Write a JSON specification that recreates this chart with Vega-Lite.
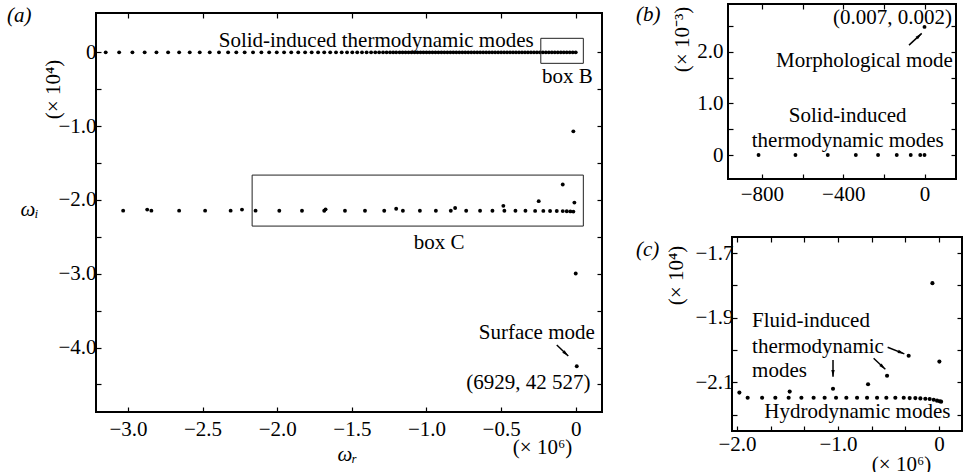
{
  "$schema": "https://vega.github.io/schema/vega-lite/v6.json",
  "autosize": {"type": "none"},
  "padding": {"left": 96, "top": 4, "right": 867, "bottom": 468},
  "background": "white",
  "config": {
    "font": "Liberation Serif",
    "view": {"stroke": "black", "strokeWidth": 2},
    "axis": {"labelFont": "Liberation Serif", "labelFontSize": 21, "labelColor": "black", "titleFont": "Liberation Serif", "titleFontSize": 21, "titleColor": "black", "titleFontWeight": "normal", "grid": false, "domain": false, "tickColor": "black", "tickWidth": 1.2, "tickSize": -5, "labelFlush": false, "labelOverlap": false, "labelBound": false},
    "title": {"font": "Liberation Serif", "fontSize": 21, "fontWeight": "normal", "color": "black", "anchor": "start", "frame": "group", "offset": 0, "baseline": "alphabetic"},
    "text": {"font": "Liberation Serif", "fontSize": 21, "color": "black"}
  },
  "datasets": {
    "modes": [
      {"x": -3.149, "y": 0}, {"x": -3.059, "y": 0}, {"x": -2.970, "y": 0}, {"x": -2.888, "y": 0}, {"x": -2.809, "y": 0}, {"x": -2.731, "y": 0}, {"x": -2.657, "y": 0}, {"x": -2.586, "y": 0}, {"x": -2.519, "y": 0}, {"x": -2.452, "y": 0}, {"x": -2.390, "y": 0}, {"x": -2.329, "y": 0}, {"x": -2.274, "y": 0}, {"x": -2.218, "y": 0}, {"x": -2.162, "y": 0}, {"x": -2.106, "y": 0}, {"x": -2.054, "y": 0}, {"x": -2.003, "y": 0}, {"x": -1.954, "y": 0}, {"x": -1.906, "y": 0}, {"x": -1.859, "y": 0}, {"x": -1.813, "y": 0}, {"x": -1.769, "y": 0}, {"x": -1.726, "y": 0}, {"x": -1.685, "y": 0}, {"x": -1.645, "y": 0}, {"x": -1.606, "y": 0}, {"x": -1.568, "y": 0}, {"x": -1.532, "y": 0}, {"x": -1.497, "y": 0}, {"x": -1.464, "y": 0}, {"x": -1.432, "y": 0}, {"x": -1.401, "y": 0}, {"x": -1.371, "y": 0}, {"x": -1.343, "y": 0}, {"x": -1.317, "y": 0}, {"x": -1.291, "y": 0}, {"x": -1.267, "y": 0}, {"x": -1.244, "y": 0}, {"x": -1.223, "y": 0}, {"x": -1.203, "y": 0},
      {"x": -1.18, "y": 0}, {"x": -1.16, "y": 0}, {"x": -1.14, "y": 0}, {"x": -1.12, "y": 0}, {"x": -1.10, "y": 0}, {"x": -1.08, "y": 0}, {"x": -1.06, "y": 0}, {"x": -1.04, "y": 0}, {"x": -1.02, "y": 0}, {"x": -1.00, "y": 0}, {"x": -0.98, "y": 0}, {"x": -0.96, "y": 0}, {"x": -0.94, "y": 0}, {"x": -0.92, "y": 0}, {"x": -0.90, "y": 0}, {"x": -0.88, "y": 0}, {"x": -0.86, "y": 0}, {"x": -0.84, "y": 0}, {"x": -0.82, "y": 0}, {"x": -0.80, "y": 0}, {"x": -0.78, "y": 0}, {"x": -0.76, "y": 0}, {"x": -0.74, "y": 0}, {"x": -0.72, "y": 0}, {"x": -0.70, "y": 0}, {"x": -0.68, "y": 0}, {"x": -0.66, "y": 0}, {"x": -0.64, "y": 0}, {"x": -0.62, "y": 0}, {"x": -0.60, "y": 0}, {"x": -0.58, "y": 0}, {"x": -0.56, "y": 0}, {"x": -0.54, "y": 0}, {"x": -0.52, "y": 0}, {"x": -0.50, "y": 0}, {"x": -0.48, "y": 0}, {"x": -0.46, "y": 0}, {"x": -0.44, "y": 0}, {"x": -0.42, "y": 0}, {"x": -0.40, "y": 0}, {"x": -0.38, "y": 0}, {"x": -0.36, "y": 0}, {"x": -0.34, "y": 0}, {"x": -0.32, "y": 0}, {"x": -0.30, "y": 0}, {"x": -0.28, "y": 0}, {"x": -0.26, "y": 0}, {"x": -0.24, "y": 0}, {"x": -0.22, "y": 0}, {"x": -0.20, "y": 0}, {"x": -0.18, "y": 0}, {"x": -0.16, "y": 0}, {"x": -0.14, "y": 0}, {"x": -0.12, "y": 0}, {"x": -0.10, "y": 0}, {"x": -0.08, "y": 0}, {"x": -0.06, "y": 0}, {"x": -0.04, "y": 0}, {"x": -0.02, "y": 0}, {"x": 0.0, "y": 0},
      {"x": -3.032, "y": -2.145}, {"x": -2.871, "y": -2.131}, {"x": -2.843, "y": -2.145}, {"x": -2.657, "y": -2.145}, {"x": -2.483, "y": -2.145}, {"x": -2.312, "y": -2.145}, {"x": -2.236, "y": -2.131}, {"x": -2.145, "y": -2.145}, {"x": -1.986, "y": -2.147}, {"x": -1.834, "y": -2.147}, {"x": -1.685, "y": -2.146}, {"x": -1.676, "y": -2.127}, {"x": -1.546, "y": -2.147}, {"x": -1.412, "y": -2.147}, {"x": -1.283, "y": -2.147}, {"x": -1.203, "y": -2.119}, {"x": -1.158, "y": -2.147}, {"x": -1.044, "y": -2.147}, {"x": -0.937, "y": -2.147}, {"x": -0.837, "y": -2.147}, {"x": -0.808, "y": -2.109}, {"x": -0.734, "y": -2.147}, {"x": -0.641, "y": -2.147}, {"x": -0.558, "y": -2.147}, {"x": -0.485, "y": -2.080}, {"x": -0.478, "y": -2.147}, {"x": -0.404, "y": -2.147}, {"x": -0.337, "y": -2.147}, {"x": -0.272, "y": -2.148}, {"x": -0.248, "y": -2.016}, {"x": -0.217, "y": -2.148}, {"x": -0.172, "y": -2.149}, {"x": -0.127, "y": -2.150}, {"x": -0.087, "y": -1.790}, {"x": -0.087, "y": -2.151}, {"x": -0.060, "y": -2.153}, {"x": -0.036, "y": -2.155}, {"x": -0.016, "y": -2.158}, {"x": -0.009, "y": -2.036}, {"x": -0.016, "y": -1.070}, {"x": 0.0, "y": -2.997}, {"x": 0.0069, "y": -4.2527}
    ],
    "modesC": [
      {"x": -1.977, "y": -2.132}, {"x": -1.479, "y": -2.129}, {"x": -1.050, "y": -2.120}, {"x": -0.703, "y": -2.106}, {"x": -0.515, "y": -2.080}, {"x": -0.301, "y": -2.018}, {"x": -0.066, "y": -1.793}, {"x": 0.003, "y": -2.036},
      {"x": -1.895, "y": -2.148}, {"x": -1.752, "y": -2.148}, {"x": -1.621, "y": -2.148}, {"x": -1.489, "y": -2.148}, {"x": -1.363, "y": -2.148}, {"x": -1.242, "y": -2.148}, {"x": -1.133, "y": -2.148}, {"x": -1.020, "y": -2.148}, {"x": -0.918, "y": -2.148}, {"x": -0.812, "y": -2.148}, {"x": -0.713, "y": -2.148}, {"x": -0.614, "y": -2.148}, {"x": -0.522, "y": -2.148}, {"x": -0.433, "y": -2.148}, {"x": -0.350, "y": -2.148}, {"x": -0.291, "y": -2.149}, {"x": -0.235, "y": -2.149}, {"x": -0.185, "y": -2.150}, {"x": -0.136, "y": -2.151}, {"x": -0.093, "y": -2.152}, {"x": -0.053, "y": -2.154}, {"x": -0.020, "y": -2.157}, {"x": 0.006, "y": -2.159}, {"x": 0.020, "y": -2.160}
    ],
    "boxesA": [
      {"x": -0.234, "x2": 0.051, "y": 0.19, "y2": -0.149},
      {"x": -2.168, "x2": 0.051, "y": -1.663, "y2": -2.354}
    ],
    "notesA": [
      {"x": -1.337, "y": 0.079, "label": "Solid-induced thermodynamic modes"},
      {"x": -0.056, "y": -0.412, "label": "box B"},
      {"x": -0.916, "y": -2.669, "label": "box C"},
      {"x": -0.261, "y": -3.889, "label": "Surface mode"},
      {"x": -0.317, "y": -4.566, "label": "(6929, 42 527)"}
    ],
    "arrowA": [{"x": -0.127, "y": -3.966, "x2": -0.05, "y2": -4.115}],
    "ptsB": [
      {"x": -816.7, "y": 0}, {"x": -635, "y": 0}, {"x": -476, "y": 0}, {"x": -338, "y": 0}, {"x": -228.5, "y": 0}, {"x": -136.6, "y": 0}, {"x": -67.8, "y": 0}, {"x": -21, "y": 0}, {"x": 0, "y": 0}, {"x": 0.007, "y": 2.48}
    ],
    "notesB": [
      {"x": -158, "y": 2.53, "label": "(0.007, 0.002)"},
      {"x": -296, "y": 1.708, "label": "Morphological mode"},
      {"x": -378, "y": 0.644, "label": "Solid-induced"},
      {"x": -378, "y": 0.161, "label": "thermodynamic modes"}
    ],
    "arrowB": [{"x": -76.2, "y": 2.128, "x2": -13.8, "y2": 2.354}],
    "notesC": [
      {"x": -1.851, "y": -1.928, "label": "Fluid-induced"},
      {"x": -1.851, "y": -2.010, "label": "thermodynamic"},
      {"x": -1.851, "y": -2.083, "label": "modes"},
      {"x": -1.730, "y": -2.212, "label": "Hydrodynamic modes"}
    ],
    "arrowC": [
      {"id": 1, "x": -0.509, "y": -1.9915, "x2": -0.344, "y2": -2.012},
      {"id": 2, "x": -0.648, "y": -2.0256, "x2": -0.532, "y2": -2.0597},
      {"id": 3, "x": -1.050, "y": -2.0308, "x2": -1.050, "y2": -2.0826}
    ]
  },
  "spacing": 632,
  "bounds": "flush",
  "hconcat": [
    {
      "spacing": 0,
      "bounds": "flush",
      "vconcat": [
        {"width": 506, "height": 9, "data": {"values": [{"a": 0}]}, "mark": {"type": "text", "text": ""}, "view": {"stroke": null}},
        {
          "width": 506,
          "height": 399,
          "title": {"text": "(a)", "dx": -89, "dy": 18, "fontStyle": "italic"},
          "resolve": {"axis": {"x": "independent", "y": "independent"}},
          "layer": [
            {
              "data": {"name": "modes"},
              "mark": {"type": "point", "filled": true, "size": 15, "color": "black", "opacity": 1},
              "encoding": {
                "x": {"field": "x", "type": "quantitative", "scale": {"domain": [-3.214, 0.176], "nice": false, "zero": false},
                  "axis": {"orient": "bottom", "values": [-3, -2.5, -2, -1.5, -1, -0.5, 0], "labelExpr": "datum.value === 0 ? '0' : format(datum.value, '.1f')", "labelPadding": 11, "title": "ωᵣ", "titleX": 251, "titleY": 48, "titleAngle": 0, "titleAlign": "center", "titleBaseline": "alphabetic", "titleFontStyle": "italic"}},
                "y": {"field": "y", "type": "quantitative", "scale": {"domain": [-4.873, 0.533], "nice": false, "zero": false},
                  "axis": {"orient": "left", "values": [-4.5, -4, -3.5, -3, -2.5, -2, -1.5, -1, -0.5, 0], "labelExpr": "datum.value === 0 ? '0' : (datum.value % 1 === 0 ? format(datum.value, '.1f') : '')", "labelPadding": 5, "title": "(× 10⁴)", "titleX": -43, "titleY": 76, "titleAngle": -90, "titleAlign": "center", "titleBaseline": "middle"}}
              }
            },
            {
              "data": {"name": "boxesA"},
              "mark": {"type": "rect", "filled": false, "stroke": "#222222", "strokeWidth": 1},
              "encoding": {
                "x": {"field": "x", "type": "quantitative", "scale": {"domain": [-3.214, 0.176], "nice": false, "zero": false},
                  "axis": {"orient": "top", "values": [-3, -2.5, -2, -1.5, -1, -0.5, 0], "labels": false, "title": "(× 10⁶)", "titleX": 446, "titleY": 440, "titleAngle": 0, "titleAlign": "center", "titleBaseline": "alphabetic"}},
                "x2": {"field": "x2"},
                "y": {"field": "y", "type": "quantitative", "scale": {"domain": [-4.873, 0.533], "nice": false, "zero": false},
                  "axis": {"orient": "right", "values": [-4.5, -4, -3.5, -3, -2.5, -2, -1.5, -1, -0.5, 0], "labels": false, "title": "ωᵢ", "titleX": -573, "titleY": 202, "titleAngle": 0, "titleAlign": "center", "titleBaseline": "alphabetic", "titleFontStyle": "italic"}},
                "y2": {"field": "y2"}
              }
            },
            {
              "data": {"name": "notesA"},
              "mark": {"type": "text", "align": "center", "baseline": "alphabetic"},
              "encoding": {
                "x": {"field": "x", "type": "quantitative", "axis": null, "scale": {"domain": [-3.214, 0.176], "nice": false, "zero": false}},
                "y": {"field": "y", "type": "quantitative", "axis": null, "scale": {"domain": [-4.873, 0.533], "nice": false, "zero": false}},
                "text": {"field": "label"}
              }
            },
            {
              "data": {"name": "arrowA"},
              "mark": {"type": "rule", "color": "black", "strokeWidth": 1.5},
              "encoding": {
                "x": {"field": "x", "type": "quantitative", "axis": null, "scale": {"domain": [-3.214, 0.176], "nice": false, "zero": false}},
                "y": {"field": "y", "type": "quantitative", "axis": null, "scale": {"domain": [-4.873, 0.533], "nice": false, "zero": false}},
                "x2": {"field": "x2"},
                "y2": {"field": "y2"}
              }
            },
            {
              "data": {"name": "arrowA"},
              "mark": {"type": "point", "filled": true, "opacity": 1, "color": "black", "size": 70, "shape": "M0,0 L0.4,1.6 L-0.4,1.6 Z", "angle": 133.5},
              "encoding": {
                "x": {"field": "x2", "type": "quantitative", "axis": null, "scale": {"domain": [-3.214, 0.176], "nice": false, "zero": false}},
                "y": {"field": "y2", "type": "quantitative", "axis": null, "scale": {"domain": [-4.873, 0.533], "nice": false, "zero": false}}
              }
            }
          ]
        }
      ]
    },
    {
      "spacing": 58,
      "bounds": "flush",
      "vconcat": [
        {
          "width": 228,
          "height": 175,
          "title": {"text": "(b)", "dx": -92, "dy": 25.7, "fontStyle": "italic"},
          "resolve": {"axis": {"x": "independent", "y": "independent"}},
          "layer": [
            {
              "data": {"name": "ptsB"},
              "mark": {"type": "point", "filled": true, "size": 15, "color": "black", "opacity": 1},
              "encoding": {
                "x": {"field": "x", "type": "quantitative", "scale": {"domain": [-967, 155], "nice": false, "zero": false},
                  "axis": {"orient": "bottom", "values": [-800, -600, -400, -200, 0], "labelExpr": "datum.value % 400 === 0 ? format(datum.value, 'd') : ''", "labelPadding": 9, "title": null}},
                "y": {"field": "y", "type": "quantitative", "scale": {"domain": [-0.464, 2.923], "nice": false, "zero": false},
                  "axis": {"orient": "left", "values": [0, 0.5, 1, 1.5, 2, 2.5], "labelExpr": "datum.value === 0 ? '0' : (datum.value % 1 === 0 ? format(datum.value, '.1f') : '')", "labelPadding": 10, "title": "(× 10⁻³)", "titleX": -46, "titleY": 35, "titleAngle": -90, "titleAlign": "center", "titleBaseline": "middle"}}
              }
            },
            {
              "data": {"name": "notesB"},
              "mark": {"type": "text", "align": "center", "baseline": "alphabetic"},
              "encoding": {
                "x": {"field": "x", "type": "quantitative", "scale": {"domain": [-967, 155], "nice": false, "zero": false},
                  "axis": {"orient": "top", "values": [-800, -600, -400, -200, 0], "labels": false, "title": null}},
                "y": {"field": "y", "type": "quantitative", "scale": {"domain": [-0.464, 2.923], "nice": false, "zero": false},
                  "axis": {"orient": "right", "values": [0, 0.5, 1, 1.5, 2, 2.5], "labels": false, "title": null}},
                "text": {"field": "label"}
              }
            },
            {
              "data": {"name": "arrowB"},
              "mark": {"type": "rule", "color": "black", "strokeWidth": 1.5},
              "encoding": {
                "x": {"field": "x", "type": "quantitative", "axis": null, "scale": {"domain": [-967, 155], "nice": false, "zero": false}},
                "y": {"field": "y", "type": "quantitative", "axis": null, "scale": {"domain": [-0.464, 2.923], "nice": false, "zero": false}},
                "x2": {"field": "x2"},
                "y2": {"field": "y2"}
              }
            },
            {
              "data": {"name": "arrowB"},
              "mark": {"type": "point", "filled": true, "opacity": 1, "color": "black", "size": 70, "shape": "M0,0 L0.4,1.6 L-0.4,1.6 Z", "angle": 47.3},
              "encoding": {
                "x": {"field": "x2", "type": "quantitative", "axis": null, "scale": {"domain": [-967, 155], "nice": false, "zero": false}},
                "y": {"field": "y2", "type": "quantitative", "axis": null, "scale": {"domain": [-0.464, 2.923], "nice": false, "zero": false}}
              }
            }
          ]
        },
        {
          "spacing": 0,
          "bounds": "flush",
          "hconcat": [
            {"width": 4, "height": 194, "data": {"values": [{"a": 0}]}, "mark": {"type": "text", "text": ""}, "view": {"stroke": null}},
            {
              "width": 230,
              "height": 194,
              "title": {"text": "(c)", "dx": -96, "dy": 27.4, "fontStyle": "italic"},
              "resolve": {"axis": {"x": "independent", "y": "independent"}},
              "layer": [
                {
                  "data": {"name": "modesC"},
                  "mark": {"type": "point", "filled": true, "size": 17, "color": "black", "opacity": 1},
                  "encoding": {
                    "x": {"field": "x", "type": "quantitative", "scale": {"domain": [-2.05, 0.227], "nice": false, "zero": false},
                      "axis": {"orient": "bottom", "values": [-2, -1.6667, -1.3333, -1, -0.6667, -0.3333, 0], "labelExpr": "datum.value === 0 ? '0' : (datum.value % 1 === 0 ? format(datum.value, '.1f') : '')", "labelPadding": 7, "title": null}},
                    "y": {"field": "y", "type": "quantitative", "scale": {"domain": [-2.251, -1.650], "nice": false, "zero": false},
                      "axis": {"orient": "left", "values": [-2.2, -2.1, -2.0, -1.9, -1.8, -1.7], "labelExpr": "abs(round(datum.value * 10)) % 2 === 1 ? format(datum.value, '.1f') : ''", "labelPadding": 4, "title": "(× 10⁴)", "titleX": -56, "titleY": 38, "titleAngle": -90, "titleAlign": "center", "titleBaseline": "middle"}}
                  }
                },
                {
                  "data": {"name": "notesC"},
                  "mark": {"type": "text", "align": "left", "baseline": "alphabetic"},
                  "encoding": {
                    "x": {"field": "x", "type": "quantitative", "scale": {"domain": [-2.05, 0.227], "nice": false, "zero": false},
                      "axis": {"orient": "top", "values": [-2, -1.6667, -1.3333, -1, -0.6667, -0.3333, 0], "labels": false, "title": "(× 10⁶)", "titleX": 169, "titleY": 233, "titleAngle": 0, "titleAlign": "center", "titleBaseline": "alphabetic"}},
                    "y": {"field": "y", "type": "quantitative", "scale": {"domain": [-2.251, -1.650], "nice": false, "zero": false},
                      "axis": {"orient": "right", "values": [-2.2, -2.1, -2.0, -1.9, -1.8, -1.7], "labels": false, "title": null}},
                    "text": {"field": "label"}
                  }
                },
                {
                  "data": {"name": "arrowC"},
                  "mark": {"type": "rule", "color": "black", "strokeWidth": 1.5},
                  "encoding": {
                    "x": {"field": "x", "type": "quantitative", "axis": null, "scale": {"domain": [-2.05, 0.227], "nice": false, "zero": false}},
                    "y": {"field": "y", "type": "quantitative", "axis": null, "scale": {"domain": [-2.251, -1.650], "nice": false, "zero": false}},
                    "x2": {"field": "x2"},
                    "y2": {"field": "y2"}
                  }
                },
                {
                  "data": {"name": "arrowC"},
                  "transform": [{"filter": "datum.id === 1"}],
                  "mark": {"type": "point", "filled": true, "opacity": 1, "color": "black", "size": 70, "shape": "M0,0 L0.4,1.6 L-0.4,1.6 Z", "angle": 111.8},
                  "encoding": {
                    "x": {"field": "x2", "type": "quantitative", "axis": null, "scale": {"domain": [-2.05, 0.227], "nice": false, "zero": false}},
                    "y": {"field": "y2", "type": "quantitative", "axis": null, "scale": {"domain": [-2.251, -1.650], "nice": false, "zero": false}}
                  }
                },
                {
                  "data": {"name": "arrowC"},
                  "transform": [{"filter": "datum.id === 2"}],
                  "mark": {"type": "point", "filled": true, "opacity": 1, "color": "black", "size": 70, "shape": "M0,0 L0.4,1.6 L-0.4,1.6 Z", "angle": 133},
                  "encoding": {
                    "x": {"field": "x2", "type": "quantitative", "axis": null, "scale": {"domain": [-2.05, 0.227], "nice": false, "zero": false}},
                    "y": {"field": "y2", "type": "quantitative", "axis": null, "scale": {"domain": [-2.251, -1.650], "nice": false, "zero": false}}
                  }
                },
                {
                  "data": {"name": "arrowC"},
                  "transform": [{"filter": "datum.id === 3"}],
                  "mark": {"type": "point", "filled": true, "opacity": 1, "color": "black", "size": 70, "shape": "M0,0 L0.4,1.6 L-0.4,1.6 Z", "angle": 180},
                  "encoding": {
                    "x": {"field": "x2", "type": "quantitative", "axis": null, "scale": {"domain": [-2.05, 0.227], "nice": false, "zero": false}},
                    "y": {"field": "y2", "type": "quantitative", "axis": null, "scale": {"domain": [-2.251, -1.650], "nice": false, "zero": false}}
                  }
                }
              ]
            }
          ]
        }
      ]
    }
  ]
}
